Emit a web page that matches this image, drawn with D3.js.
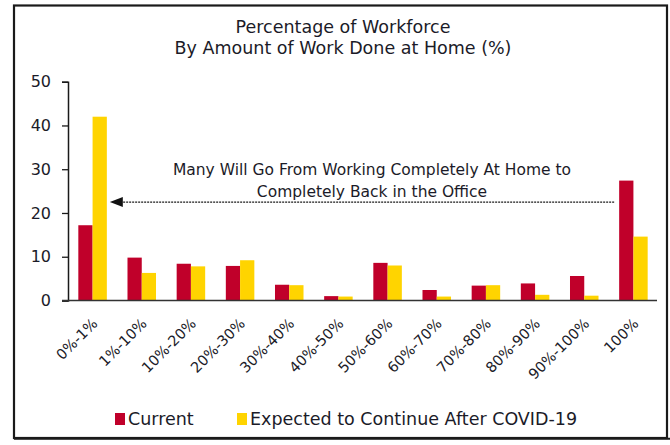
<!DOCTYPE html>
<html>
<head>
<meta charset="utf-8">
<script src="https://cdn.jsdelivr.net/npm/d3@7"></script>
<style>
  html, body { margin: 0; padding: 0; background: #fff; }
  svg { display: block; }
  text { font-family: "DejaVu Sans", sans-serif; fill: #1b1b28; }
</style>
</head>
<body>
<svg id="chart" width="670" height="445"></svg>
<script>
// Share of workforce by amount of work done at home (%)
const categories = ["0%-1%", "1%-10%", "10%-20%", "20%-30%", "30%-40%", "40%-50%",
                    "50%-60%", "60%-70%", "70%-80%", "80%-90%", "90%-100%", "100%"];
const current  = [17.2, 9.8, 8.4, 7.9, 3.6, 1.0, 8.6, 2.4, 3.4, 3.9, 5.6, 27.4];
const expected = [42.0, 6.3, 7.8, 9.2, 3.5, 0.9, 8.0, 0.9, 3.5, 1.3, 1.1, 14.6];
const seriesNames = ["Current", "Expected to Continue After COVID-19"];
const seriesColors = ["#c0002a", "#ffd400"];
const yTicks = [0, 10, 20, 30, 40, 50];
const titleLines = ["Percentage of Workforce", "By Amount of Work Done at Home (%)"];
const noteLines = ["Many Will Go From Working Completely At Home to",
                   "Completely Back in the Office"];
const arrowLevel = 22.5;

const svg = d3.select("#chart");
const plot = { left: 68, right: 658, top: 81.7, bottom: 300.5 };

// outer frame
svg.append("rect")
  .attr("x", 14).attr("y", 5.5)
  .attr("width", 653).attr("height", 432.5)
  .attr("fill", "#fff")
  .attr("stroke", "#1a1a1a").attr("stroke-width", 2.2);
svg.append("line")
  .attr("x1", 14).attr("x2", 670).attr("y1", 438.8).attr("y2", 438.8)
  .attr("stroke", "#1a1a1a").attr("stroke-width", 2);

// title
svg.append("g").selectAll("text").data(titleLines).join("text")
  .attr("x", 343).attr("y", (d, i) => 33 + i * 21)
  .attr("text-anchor", "middle")
  .attr("font-size", 17.5)
  .text(d => d);

const x0 = d3.scaleBand().domain(categories).range([plot.left, plot.right]).paddingInner(0.42).paddingOuter(0.21);
const x1 = d3.scaleBand().domain([0, 1]).range([0, x0.bandwidth()]);
const y = d3.scaleLinear().domain([0, 50]).range([plot.bottom, plot.top]);

// bars
const rows = categories.map((c, i) => ({ c, v: [current[i], expected[i]] }));
const groups = svg.append("g").selectAll("g").data(rows).join("g")
  .attr("transform", d => `translate(${x0(d.c)},0)`);
groups.selectAll("rect").data(d => d.v.map((v, k) => ({ v, k }))).join("rect")
  .attr("x", d => x1(d.k))
  .attr("width", x1.bandwidth())
  .attr("y", d => y(d.v))
  .attr("height", d => y(0) - y(d.v))
  .attr("fill", d => seriesColors[d.k]);

// y axis
const yAxis = svg.append("g")
  .attr("transform", `translate(${plot.left},0)`)
  .call(d3.axisLeft(y).tickValues(yTicks).tickSize(6).tickSizeOuter(6).tickPadding(11));
yAxis.select(".domain").attr("stroke", "#1a1a1a").attr("stroke-width", 1.5);
yAxis.selectAll(".tick line").attr("stroke", "#1a1a1a").attr("stroke-width", 1.3);
yAxis.selectAll(".tick text").attr("font-size", 16).attr("fill", "#1b1b28")
  .attr("font-family", "DejaVu Sans, sans-serif");

// x baseline
svg.append("line")
  .attr("x1", plot.left - 6).attr("x2", plot.right - 1)
  .attr("y1", y(0)).attr("y2", y(0))
  .attr("stroke", "#333").attr("stroke-width", 1.6);

// x labels, rotated
svg.append("g").selectAll("text").data(categories).join("text")
  .attr("text-anchor", "end")
  .attr("font-size", 14.5)
  .attr("transform", d => `translate(${x0(d) + x0.bandwidth() / 2 + 6},${y(0) + 24}) rotate(-45)`)
  .text(d => d);

// annotation arrow
const ay = y(arrowLevel);
const ax1 = x0(categories[categories.length - 1]) - 5;
const ax0 = x0(categories[0]) + x0.bandwidth() + 3;
svg.append("line")
  .attr("x1", ax1).attr("x2", ax0 + 12)
  .attr("y1", ay).attr("y2", ay)
  .attr("stroke", "#1a1a1a").attr("stroke-width", 1.3)
  .attr("stroke-dasharray", "2,1");
svg.append("path")
  .attr("d", `M${ax0},${ay} L${ax0 + 13},${ay - 5} L${ax0 + 13},${ay + 5} Z`)
  .attr("fill", "#111");

svg.append("g").selectAll("text").data(noteLines).join("text")
  .attr("x", 372).attr("y", (d, i) => ay - 27 + i * 22)
  .attr("text-anchor", "middle")
  .attr("font-size", 15.5)
  .text(d => d);

// legend
const legendX = [115, 237];
const lg = svg.append("g").selectAll("g").data(seriesNames).join("g")
  .attr("transform", (d, i) => `translate(${legendX[i]},413)`);
lg.append("rect").attr("width", 10).attr("height", 12)
  .attr("fill", (d, i) => seriesColors[i]);
lg.append("text").attr("x", 13).attr("y", 12)
  .attr("font-size", 17.5)
  .text(d => d);
</script>
</body>
</html>
